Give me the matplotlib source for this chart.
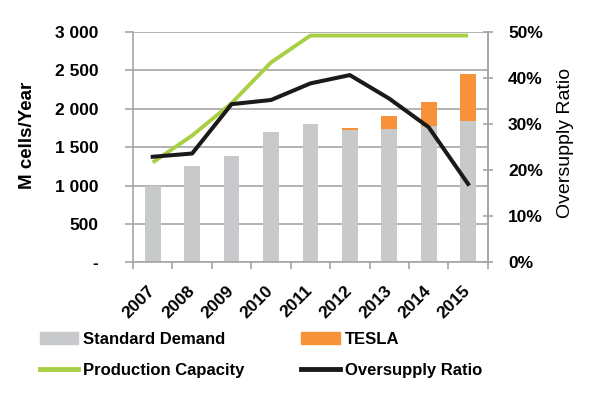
import matplotlib
matplotlib.use("Agg")
import matplotlib.pyplot as plt
from matplotlib.patches import Patch
from matplotlib.lines import Line2D
import numpy as np

plt.rcParams['font.family'] = ['Liberation Sans', 'DejaVu Sans']

years = ['2007', '2008', '2009', '2010', '2011', '2012', '2013', '2014', '2015']
standard_demand = [1000, 1250, 1380, 1690, 1800, 1720, 1735, 1775, 1840]
tesla = [0, 0, 0, 0, 0, 30, 165, 305, 605]
production_capacity = [1300, 1650, 2070, 2600, 2950, 2950, 2950, 2950, 2950]
oversupply_ratio = [0.229, 0.236, 0.343, 0.352, 0.388, 0.406, 0.355, 0.293, 0.170]

left_ticks = [0, 500, 1000, 1500, 2000, 2500, 3000]
left_labels = ['-', '500', '1 000', '1 500', '2 000', '2 500', '3 000']
right_ticks = [0, 0.1, 0.2, 0.3, 0.4, 0.5]
right_labels = ['0%', '10%', '20%', '30%', '40%', '50%']

GRAY = '#C8C9CB'
ORANGE = '#F7923A'
GREEN = '#A9CF45'
BLACK = '#1A1A1A'
AX_GRAY = '#A6A6A6'

fig = plt.figure(figsize=(6.0, 3.94), dpi=100)
ax = fig.add_axes([0.2217, 0.334, 0.5913, 0.5855])
x = np.arange(len(years))

ax.bar(x, standard_demand, width=0.4, color=GRAY, zorder=2)
ax.bar(x, tesla, width=0.4, bottom=standard_demand, color=ORANGE, zorder=2)
ax.plot(x, production_capacity, color=GREEN, lw=2.8, zorder=3, solid_capstyle='butt')

ax.set_xlim(-0.5, len(years) - 0.5)
ax.set_ylim(0, 3000)
ax.set_yticks(left_ticks)
ax.set_yticklabels(left_labels, fontsize=12.5, fontweight='bold')
ax.yaxis.grid(True, color=AX_GRAY, lw=1.2, zorder=0)
ax.set_axisbelow(True)
ax.tick_params(axis='y', direction='out', length=6, width=1.2, color=AX_GRAY, pad=19)

ax.set_xticks(x)
ax.set_xticklabels(years, fontsize=12.5, fontweight='bold', rotation=45,
                   ha='right', va='center', rotation_mode='anchor')
ax.set_xticks(np.arange(-0.5, len(years)), minor=True)
ax.tick_params(axis='x', which='major', length=0, pad=18.5)
ax.tick_params(axis='x', which='minor', direction='out', length=5, width=1.2, color=AX_GRAY)

for s in ['left', 'bottom', 'right']:
    ax.spines[s].set_color(AX_GRAY)
    ax.spines[s].set_linewidth(1.2)
ax.spines['top'].set_visible(False)

ax2 = ax.twinx()
ax2.plot(x, oversupply_ratio, color=BLACK, lw=2.9, zorder=4)
ax2.set_ylim(0, 0.5)
ax2.set_yticks(right_ticks)
ax2.set_yticklabels(right_labels, fontsize=12.5, fontweight='bold')
ax2.tick_params(axis='y', direction='inout', length=7, width=1.2, color=AX_GRAY, pad=11)
for s in ['left', 'bottom', 'top']:
    ax2.spines[s].set_visible(False)
ax2.spines['right'].set_color(AX_GRAY)
ax2.spines['right'].set_linewidth(1.2)

fig.text(28 / 600, 1 - 135 / 394, 'M cells/Year', rotation=90, fontsize=13.5,
         fontweight='bold', ha='center', va='center')
fig.text(565 / 600, 1 - 143 / 394, 'Oversupply Ratio', rotation=90, fontsize=14,
         ha='center', va='center')

handles = [Patch(color=GRAY), Line2D([], [], color=GREEN, lw=3.5),
           Patch(color=ORANGE), Line2D([], [], color=BLACK, lw=3.5)]
labels = ['Standard Demand', 'Production Capacity', 'TESLA', 'Oversupply Ratio']
leg = fig.legend(handles, labels, ncol=2, loc='upper left',
                 bbox_to_anchor=(40 / 600, 1 - 332 / 394), frameon=False,
                 borderpad=0, borderaxespad=0, handlelength=2.3, handleheight=0.75,
                 handletextpad=0.3, columnspacing=3.4, labelspacing=0.95,
                 prop={'size': 12, 'weight': 'bold'})

fig.savefig('out.png', dpi=100)
